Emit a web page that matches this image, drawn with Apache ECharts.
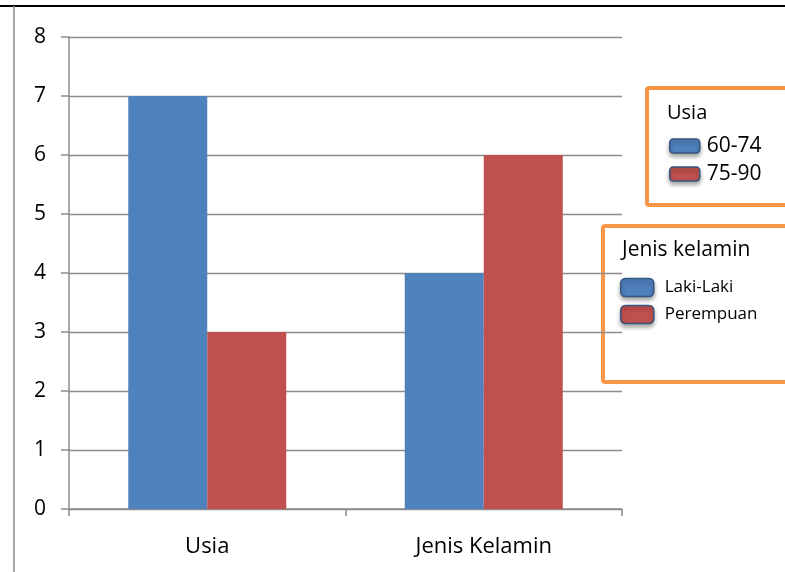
<!DOCTYPE html>
<html><head><meta charset="utf-8">
<script src="https://cdn.jsdelivr.net/npm/echarts@6/dist/echarts.min.js"></script>
<style>html,body{margin:0;padding:0;background:#fff}#c{width:785px;height:572px}</style>
</head><body><div id="c"></div>
<script>
const categories = ['Usia', 'Jenis Kelamin'];
const usiaLabels = ['60-74', '75-90'];
const usiaValues = [7, 3];
const jkLabels = ['Laki-Laki', 'Perempuan'];
const jkValues = [4, 6];
const yTicks = [0, 1, 2, 3, 4, 5, 6, 7, 8];
const legendTitles = ['Usia', 'Jenis kelamin'];

const BLUE = '#4F81BD', RED = '#C0504D';
const FONT = 'Open Sans';
const chart = echarts.init(document.getElementById('c'));
const series = [
  {name: usiaLabels[0], type: 'bar', stack: 'a', data: [usiaValues[0], null], color: BLUE},
  {name: usiaLabels[1], type: 'bar', stack: 'b', data: [usiaValues[1], null], color: RED},
  {name: jkLabels[0], type: 'bar', stack: 'a', data: [null, jkValues[0]], color: BLUE},
  {name: jkLabels[1], type: 'bar', stack: 'b', data: [null, jkValues[1]], color: RED}
].map(s => Object.assign(s, {barWidth: 79, barGap: '0%', itemStyle: {color: s.color}}));

const iconStyle = {borderColor: '#34557f', borderWidth: 1.5, shadowBlur: 4, shadowColor: 'rgba(0,0,0,0.35)', shadowOffsetY: 3};

chart.setOption({
  animation: false,
  textStyle: {fontFamily: FONT},
  grid: {left: 69, right: 163, top: 37, bottom: 63},
  xAxis: {
    type: 'category', data: categories,
    axisLine: {lineStyle: {color: '#8c8c8c', width: 1.5}},
    axisTick: {show: true, length: 7, lineStyle: {color: '#8c8c8c', width: 1.5}},
    axisLabel: {color: '#000', fontSize: 22, margin: 27, fontFamily: FONT}
  },
  yAxis: {
    type: 'value', min: yTicks[0], max: yTicks[yTicks.length - 1], interval: 1,
    axisLine: {show: true, lineStyle: {color: '#8c8c8c', width: 1.5}},
    axisTick: {show: true, length: 8, lineStyle: {color: '#8c8c8c', width: 1.5}},
    splitLine: {lineStyle: {color: '#8c8c8c', width: 1.3}},
    axisLabel: {color: '#000', fontSize: 21, margin: 23, fontFamily: FONT}
  },
  legend: [
    {data: usiaLabels, orient: 'vertical', left: 664, top: 127, itemWidth: 30, itemHeight: 14, itemGap: 0,
     textStyle: {fontSize: 21, lineHeight: 28, color: '#000', fontFamily: FONT, padding: [0, 0, 0, 2]},
     itemStyle: iconStyle},
    {data: jkLabels, orient: 'vertical', left: 615, top: 269, itemWidth: 33, itemHeight: 18, itemGap: 0,
     textStyle: {fontSize: 17, lineHeight: 27, color: '#000', fontFamily: FONT, padding: [0, 0, 0, 6]},
     itemStyle: iconStyle}
  ],
  graphic: [
    {type: 'line', shape: {x1: 0, y1: 6, x2: 785, y2: 6}, style: {stroke: '#000', lineWidth: 2}},
    {type: 'line', shape: {x1: 14, y1: 6, x2: 14, y2: 572}, style: {stroke: '#888', lineWidth: 1.5}},
    {type: 'rect', shape: {x: 647, y: 88, width: 150, height: 117, r: 2}, style: {fill: 'none', stroke: '#F79646', lineWidth: 4}},
    {type: 'text', left: 667, top: 103, style: {text: legendTitles[0], fontSize: 20, fill: '#000', fontFamily: FONT}},
    {type: 'rect', shape: {x: 603, y: 226, width: 200, height: 156, r: 2}, style: {fill: 'none', stroke: '#F79646', lineWidth: 4}},
    {type: 'text', left: 622, top: 240, style: {text: legendTitles[1], fontSize: 21, fill: '#000', fontFamily: FONT}}
  ],
  series: series
});
</script></body></html>
